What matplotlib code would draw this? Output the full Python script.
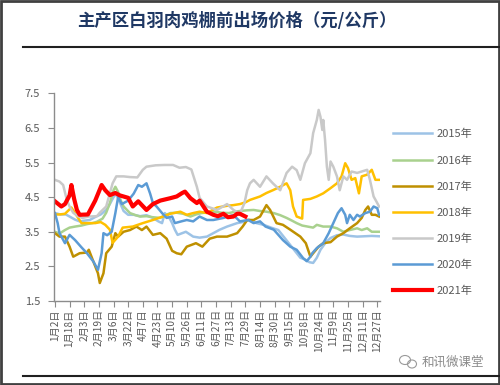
import matplotlib
matplotlib.use("Agg")
import matplotlib.pyplot as plt
from matplotlib.lines import Line2D
from matplotlib.patches import Rectangle, Ellipse

plt.rcParams['font.family'] = ['Noto Sans CJK SC', 'DejaVu Sans']

title = "主产区白羽肉鸡棚前出场价格（元/公斤）"
tick_labels = ["1月2日", "1月18日", "2月3日", "2月19日", "3月6日", "3月22日", "4月7日",
               "4月23日", "5月10日", "5月26日", "6月11日", "6月27日", "7月13日", "7月29日",
               "8月14日", "8月30日", "9月15日", "10月8日", "10月24日", "11月9日",
               "11月25日", "12月11日", "12月27日"]
series_names = ["2015年", "2016年", "2017年", "2018年", "2019年", "2020年", "2021年"]

x2015 = [0, 6, 12, 16, 22, 27, 32, 38, 45, 50, 56, 60, 64, 67, 70, 75, 80, 86, 93, 100, 107,
         113, 117, 120, 125, 128, 131, 134, 143, 151, 158, 166, 173, 180, 188, 199, 205, 212,
         220, 228, 236, 244, 250, 256, 262, 268, 273, 278, 282, 286, 290, 296, 301, 308, 315,
         322, 330, 338, 346, 354]
y2015 = [4.04, 4.0, 4.0, 3.94, 3.85, 3.8, 3.82, 3.84, 3.94, 4.0, 4.13, 4.3, 4.5, 4.6, 4.4, 4.1,
         3.99, 3.99, 3.95, 3.98, 3.9, 3.8, 3.75, 4.04, 3.9, 3.75, 3.56, 3.41, 3.5, 3.36, 3.33,
         3.36, 3.46, 3.56, 3.65, 3.75, 3.78, 3.85, 3.75, 3.7, 3.62, 3.55, 3.35, 3.15, 2.95, 2.75,
         2.7, 2.62, 2.6, 2.75, 2.98, 3.2, 3.32, 3.4, 3.42, 3.38, 3.36, 3.37, 3.38, 3.37]

x2016 = [0, 5, 11, 16, 22, 29, 35, 41, 46, 52, 56, 60, 64, 66, 69, 72, 75, 82, 88, 93, 100, 107,
         115, 120, 126, 133, 140, 148, 154, 160, 167, 175, 182, 190, 197, 202, 210, 217, 224,
         231, 239, 246, 253, 259, 264, 270, 276, 282, 286, 293, 301, 308, 315, 322, 330, 335,
         341, 346, 354]
y2016 = [3.5, 3.45, 3.55, 3.62, 3.65, 3.68, 3.72, 3.75, 3.79, 3.88, 4.05, 4.33, 4.7, 4.8, 4.65,
         4.4, 4.23, 4.04, 3.98, 3.94, 3.95, 3.92, 3.9, 3.97, 4.04, 4.05, 4.02, 3.94, 4.0, 4.04,
         4.06, 4.08, 4.05, 4.04, 4.08, 4.1, 4.12, 4.13, 4.1, 4.08, 4.04, 3.98, 3.9, 3.82, 3.75,
         3.68, 3.65, 3.62, 3.7, 3.65, 3.65, 3.6, 3.5, 3.55, 3.6, 3.55, 3.6, 3.5, 3.5]

x2017 = [0, 5, 11, 16, 20, 27, 35, 37, 42, 47, 49, 53, 56, 62, 66, 69, 75, 82, 89, 95, 100, 107,
         115, 122, 128, 133, 138, 144, 154, 161, 169, 177, 188, 199, 205, 210, 217, 224,
         231, 235, 242, 249, 257, 268, 274, 279, 282, 288, 293, 301, 308, 315, 322, 330, 335,
         339, 342, 346, 350, 354]
y2017 = [3.46, 3.36, 3.36, 3.07, 2.78, 2.88, 2.9, 2.98, 2.64, 2.3, 2.02, 2.3, 2.88, 3.07, 3.46,
         3.36, 3.5, 3.55, 3.65, 3.55, 3.65, 3.41, 3.46, 3.3, 2.95, 2.88, 2.85, 3.07, 3.17, 3.07,
         3.3, 3.36, 3.36, 3.46, 3.65, 3.84, 3.84, 3.94, 4.27, 4.13, 3.75, 3.7, 3.56, 3.36,
         3.17, 2.78, 2.88, 3.07, 3.17, 3.2, 3.36, 3.46, 3.6, 3.75, 3.9, 4.13, 4.23, 3.99, 3.99,
         3.94]

x2018 = [0, 5, 11, 18, 22, 29, 36, 44, 50, 55, 60, 63, 69, 74, 85, 96, 107, 118, 126, 137, 144,
         151, 158, 166, 177, 188, 195, 202, 208, 213, 224, 231, 238, 246, 253, 257, 260, 264,
         270, 271, 279, 286, 293, 301, 308, 313, 317, 320, 324, 328, 332, 335, 341, 346, 350, 354]
y2018 = [4.0, 4.0, 4.02, 4.2, 4.04, 3.75, 3.75, 3.75, 3.78, 3.7, 3.56, 3.18, 3.36, 3.62, 3.65,
         3.75, 3.84, 3.94, 4.02, 4.08, 3.99, 4.04, 4.08, 4.04, 4.2, 4.25, 4.27, 4.3, 4.35, 4.42,
         4.52, 4.62, 4.7, 4.8, 4.9, 4.7, 4.23, 3.94, 3.88, 4.42, 4.45, 4.52, 4.61, 4.76, 4.9,
         5.1, 5.48, 5.34, 5.0, 5.05, 4.61, 5.1, 5.15, 5.29, 5.0, 5.0]

x2019 = [0, 5, 9, 13, 16, 20, 25, 30, 37, 46, 49, 56, 63, 67, 75, 82, 90, 96, 100, 110, 120,
         129, 136, 143, 149, 155, 158, 166, 177, 188, 195, 202, 207, 210, 213, 217, 224, 231,
         238, 246, 253, 259, 264, 268, 273, 279, 282, 286, 288, 290, 292, 293, 295, 297, 299,
         301, 304, 308, 311, 315, 319, 324, 330, 335, 341, 344, 348, 352, 354]
y2019 = [5.0, 4.95, 4.85, 4.42, 4.23, 4.05, 3.95, 3.9, 3.94, 3.95, 4.05, 4.23, 4.9, 5.1, 5.1,
         5.08, 5.07, 5.29, 5.38, 5.42, 5.43, 5.43, 5.35, 5.37, 5.3, 4.8, 4.48, 4.23, 4.13, 4.3,
         4.13, 4.02, 4.33, 4.7, 4.9, 5.0, 4.8, 5.1, 4.9, 4.7, 5.2, 5.38, 5.28, 5.0, 5.48, 5.77,
         6.35, 6.73, 7.02, 6.82, 6.44, 6.73, 6.15, 5.38, 5.0, 5.53, 5.38, 5.1, 4.7, 5.1, 5.0,
         5.24, 5.2, 5.24, 5.29, 5.0, 4.52, 4.33, 4.23]

x2020 = [0, 3, 5, 11, 16, 22, 29, 35, 42, 47, 51, 53, 57, 62, 66, 69, 73, 80, 86, 91, 95, 100,
         104, 107, 111, 117, 122, 128, 131, 138, 144, 151, 158, 166, 173, 184, 195, 202, 211,
         217, 224, 230, 239, 249, 257, 264, 271, 275, 279, 281, 286, 293, 299, 304, 309, 313,
         317, 319, 322, 326, 330, 333, 339, 344, 348, 352, 354]
y2020 = [4.04, 3.75, 3.46, 3.17, 3.41, 3.26, 3.05, 2.88, 2.64, 2.4, 2.88, 3.46, 3.4, 3.5,
         4.04, 4.5, 4.3, 4.4, 4.6, 4.85, 4.8, 4.9, 4.6, 4.33, 4.23, 4.04, 3.9, 3.94, 3.75, 3.8,
         3.84, 3.8, 3.94, 3.84, 3.84, 3.9, 3.98, 3.8, 3.84, 3.75, 3.8, 3.65, 3.56, 3.26,
         3.07, 2.98, 2.74, 2.65, 2.78, 2.88, 3.03, 3.17, 3.46, 3.75, 4.04, 4.18, 3.99, 3.75,
         3.99, 3.84, 3.99, 3.94, 4.04, 4.08, 4.23, 4.18, 3.99]

x2021 = [0, 7, 11, 16, 18, 21, 24, 27, 36, 44, 51, 55, 60, 66, 71, 80, 85, 91, 100, 107, 115,
         126, 133, 139, 142, 148, 155, 158, 166, 173, 178, 184, 189, 195, 199, 202, 208]
y2021 = [4.38, 4.23, 4.3, 4.55, 4.85, 4.45, 4.13, 3.99, 4.0, 4.4, 4.85, 4.7, 4.56, 4.62, 4.55,
         4.48, 4.23, 4.38, 4.13, 4.3, 4.4, 4.47, 4.52, 4.62, 4.66, 4.47, 4.33, 4.4, 4.08, 3.99,
         3.95, 4.02, 3.92, 3.94, 4.02, 4.02, 3.94]

xs = [x2015, x2016, x2017, x2018, x2019, x2020, x2021]
ys = [y2015, y2016, y2017, y2018, y2019, y2020, y2021]
colors = ["#9DC3E6", "#A9D18E", "#BF9000", "#FFC000", "#C9C9C9", "#5B9BD5", "#FF0000"]
widths = [1.8, 1.8, 1.8, 1.8, 1.8, 1.8, 3.0]

W, H = 500, 385
fig = plt.figure(figsize=(W / 100, H / 100), dpi=100)
ax = fig.add_axes([54 / W, 1 - 301 / H, (380 - 54) / W, (301 - 93.3) / H])

handles = []
for x, y, c, lw, name in zip(xs, ys, colors, widths, series_names):
    h, = ax.plot(x, y, color=c, lw=lw, label=name, solid_joinstyle='round')
    handles.append(h)

ax.set_xlim(-1, 355)
ax.set_ylim(1.5, 7.5)
ax.set_yticks([1.5, 2.5, 3.5, 4.5, 5.5, 6.5, 7.5])
ax.set_yticklabels(["1.5", "2.5", "3.5", "4.5", "5.5", "6.5", "7.5"])
ax.set_xticks(list(range(0, 16 * len(tick_labels), 16)))
ax.set_xticklabels(tick_labels, rotation=90, ha='center', va='top')
for s in ["top", "right"]:
    ax.spines[s].set_visible(False)
for s in ["left", "bottom"]:
    ax.spines[s].set_color("#8C8C8C")
    ax.spines[s].set_linewidth(1.0)
ax.tick_params(axis='y', colors="#8C8C8C", labelcolor="#595959", labelsize=8,
               length=4, direction='out', pad=6)
ax.tick_params(axis='x', colors="#8C8C8C", labelcolor="#595959", labelsize=7.3,
               length=4, direction='out', pad=2)
ax.patch.set_alpha(0)

fig.legend(handles=handles, labels=series_names, loc='upper left',
           bbox_to_anchor=(393 / W, 1 - 129 / H), frameon=False, fontsize=8,
           handlelength=3.5, handletextpad=0.4, labelspacing=1.42,
           borderpad=0, borderaxespad=0, labelcolor="#595959")

fig.text(237 / W, 1 - 21 / H, title, ha='center', va='center', fontsize=12.5,
         color="#1F3864", fontweight='bold')

fig.add_artist(Line2D([23 / W, 1], [1 - 47 / H, 1 - 47 / H], color="#202020", lw=1.5))
fig.add_artist(Line2D([23 / W, 1], [1 - 376 / H, 1 - 376 / H], color="#202020", lw=1.5))
fig.add_artist(Rectangle((0.002, 0.003), 0.996, 0.994, transform=fig.transFigure,
                         fill=False, ec="#404040", lw=2))

fig.add_artist(Ellipse((405 / W, 1 - 360 / H), 11 / W, 9 / H, transform=fig.transFigure,
                       fill=False, ec="#9A9A9A", lw=0.8))
fig.add_artist(Ellipse((412 / W, 1 - 364 / H), 9 / W, 8 / H, transform=fig.transFigure,
                       fill=False, ec="#9A9A9A", lw=0.8))
fig.text(453 / W, 1 - 362 / H, "和讯微课堂", ha='center', va='center', fontsize=9,
         color="#8A8A8A")

fig.savefig("out.png", dpi=100)
